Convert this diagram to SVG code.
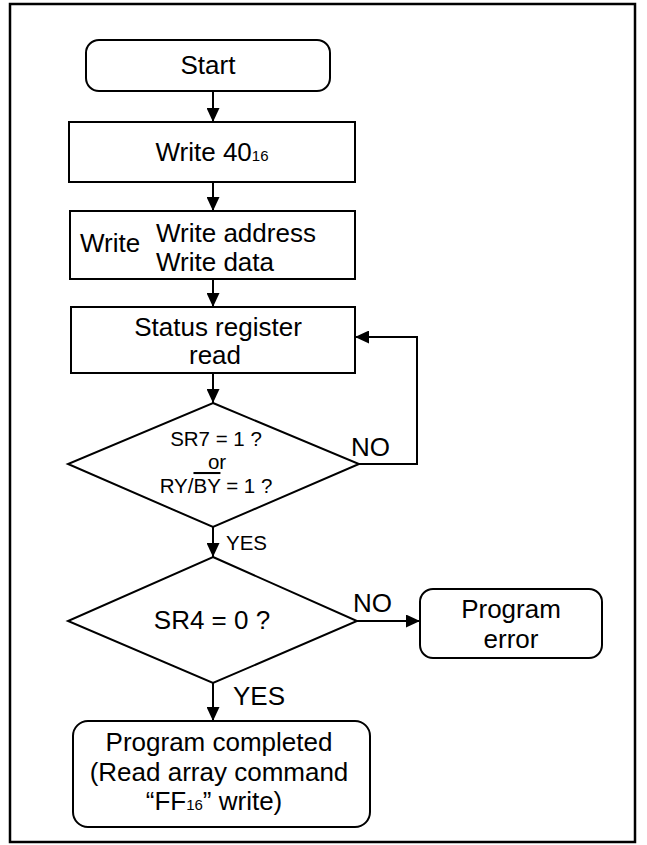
<svg xmlns="http://www.w3.org/2000/svg" width="647" height="845" viewBox="0 0 647 845">
<style>
.s{fill:#fff;stroke:#000;stroke-width:2}
.c{fill:none;stroke:#000;stroke-width:2}
text{font-family:"Liberation Sans",Arial,sans-serif;fill:#000}
.t{font-size:26px}
.m{text-anchor:middle}
.sm{font-size:20.5px}
.sub{font-size:15px}
</style>
<defs>
<marker id="ah" markerUnits="userSpaceOnUse" markerWidth="14" markerHeight="13" refX="14" refY="6.5" orient="auto">
<path d="M0,0 L14,6.5 L0,13 z" fill="#000"/>
</marker>
</defs>
<rect x="0" y="0" width="647" height="845" fill="#fff"/>
<rect id="frame" x="10" y="4" width="625" height="838" fill="none" stroke="#000" stroke-width="2.5"/>
<g id="connectors">
<line class="c" x1="213" y1="91" x2="213" y2="122" marker-end="url(#ah)"/>
<line class="c" x1="213" y1="182" x2="213" y2="211" marker-end="url(#ah)"/>
<line class="c" x1="213" y1="279" x2="213" y2="307" marker-end="url(#ah)"/>
<line class="c" x1="213" y1="373" x2="213" y2="403" marker-end="url(#ah)"/>
<polyline class="c" points="359,464 417,464 417,337 355,337" marker-end="url(#ah)"/>
<line class="c" x1="213" y1="527" x2="213" y2="557" marker-end="url(#ah)"/>
<line class="c" x1="357" y1="621" x2="420" y2="621" marker-end="url(#ah)"/>
<line class="c" x1="213" y1="683" x2="213" y2="721" marker-end="url(#ah)"/>
<text class="t" x="351" y="456">NO</text>
<text class="sm" x="226" y="550">YES</text>
<text class="t" x="353" y="612">NO</text>
<text class="t" x="233" y="705">YES</text>
</g>
<g id="start">
<rect class="s" x="86" y="40" width="244" height="51" rx="13"/>
<text class="t m" x="208" y="74">Start</text>
</g>
<g id="write40">
<rect class="s" x="69" y="122" width="286" height="60"/>
<text class="t m" x="212" y="161">Write 40<tspan class="sub">16</tspan></text>
</g>
<g id="writeaddr">
<rect class="s" x="70" y="211" width="285" height="68"/>
<text class="t" x="80" y="252">Write</text>
<text class="t" x="156" y="242">Write address</text>
<text class="t" x="156" y="271">Write data</text>
</g>
<g id="status">
<rect class="s" x="71" y="307" width="284" height="66"/>
<text class="t m" x="218" y="336">Status register</text>
<text class="t m" x="215" y="364">read</text>
</g>
<g id="decision1">
<polygon class="s" points="213,403 359,464 213,527 68,464"/>
<text class="sm m" x="216" y="446">SR7 = 1 ?</text>
<text class="sm m" x="217" y="469">or</text>
<text class="sm m" x="216" y="493">RY/<tspan text-decoration="overline">BY</tspan> = 1 ?</text>
</g>
<g id="decision2">
<polygon class="s" points="213,557 357,621 213,683 68,621"/>
<text class="t m" x="212" y="629">SR4 = 0 ?</text>
</g>
<g id="error">
<rect class="s" x="420" y="589" width="182" height="69" rx="13"/>
<text class="t m" x="511" y="618">Program</text>
<text class="t m" x="511" y="648">error</text>
</g>
<g id="done">
<rect class="s" x="73" y="721" width="297" height="106" rx="15"/>
<text class="t m" x="219" y="751">Program completed</text>
<text class="t m" x="219" y="781">(Read array command</text>
<text class="t m" x="214" y="810">“FF<tspan class="sub">16</tspan>” write)</text>
</g>
</svg>
